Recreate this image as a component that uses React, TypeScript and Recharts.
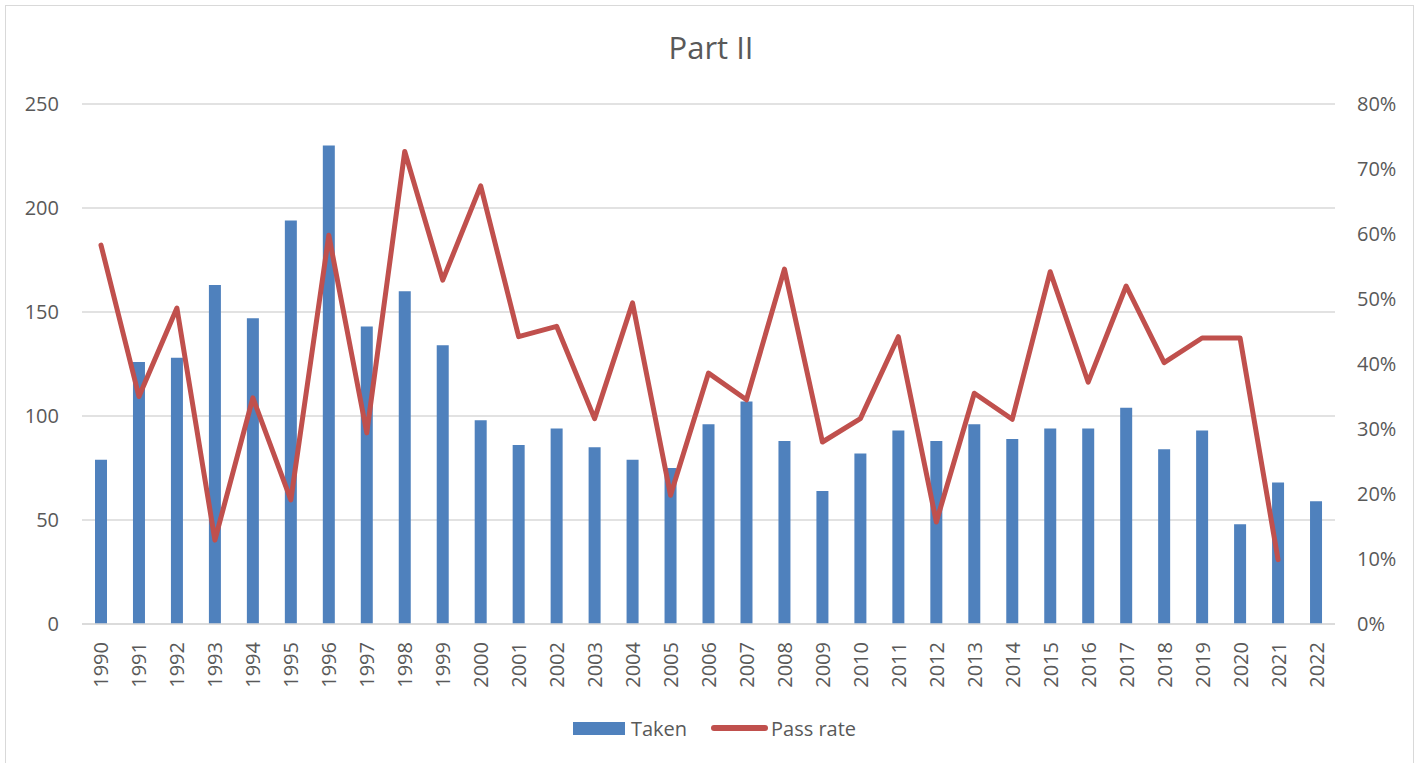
import { ComposedChart, Bar, Line, XAxis, YAxis, CartesianGrid, Legend } from 'recharts'

const years = [
  '1990', '1991', '1992', '1993', '1994', '1995', '1996', '1997', '1998', '1999',
  '2000', '2001', '2002', '2003', '2004', '2005', '2006', '2007', '2008', '2009',
  '2010', '2011', '2012', '2013', '2014', '2015', '2016', '2017', '2018', '2019',
  '2020', '2021', '2022',
]

const taken = [
  79, 126, 128, 163, 147, 194, 230, 143, 160, 134,
  98, 86, 94, 85, 79, 75, 96, 107, 88, 64,
  82, 93, 88, 96, 89, 94, 94, 104, 84, 93,
  48, 68, 59,
]

const passRate: (number | null)[] = [
  0.583, 0.350, 0.486, 0.129, 0.348, 0.191, 0.598, 0.294, 0.727, 0.529,
  0.674, 0.442, 0.458, 0.316, 0.494, 0.198, 0.386, 0.345, 0.546, 0.280,
  0.316, 0.442, 0.157, 0.355, 0.315, 0.542, 0.372, 0.520, 0.402, 0.440,
  0.440, 0.099, null,
]

const leftTicks = [0, 50, 100, 150, 200, 250]
const rightTicks = [0, 0.1, 0.2, 0.3, 0.4, 0.5, 0.6, 0.7, 0.8]

const TEXT = '#595959'
const GRID = '#d9d9d9'
const BLUE = '#4F81BD'
const RED = '#C0504D'
const FONT = '"Open Sans", sans-serif'

const data = years.map((year, i) => ({ year, taken: taken[i], passRate: passRate[i] }))

function YearTick({ x, y, payload }: any) {
  return (
    <text
      transform={`translate(${x},${y + 16}) rotate(-90)`}
      textAnchor="end"
      dominantBaseline="central"
      fill={TEXT}
      fontSize={20}
      fontFamily={FONT}
    >
      {payload.value}
    </text>
  )
}

function LegendBox() {
  return (
    <div style={{ display: 'flex', justifyContent: 'center', alignItems: 'center', height: 24, fontFamily: FONT, fontSize: 20, color: TEXT, paddingLeft: 9 }}>
      <span style={{ width: 52, height: 13, background: BLUE, display: 'inline-block', marginRight: 6 }} />
      <span style={{ marginRight: 24 }}>Taken</span>
      <span style={{ width: 57, height: 6, borderRadius: 3, background: RED, display: 'inline-block', marginRight: 3 }} />
      <span>Pass rate</span>
    </div>
  )
}

export default function App() {
  return (
    <div style={{ position: 'relative', width: 1420, height: 763, background: '#fff' }}>
      <style>{'body{margin:0}'}</style>
      <div style={{ position: 'absolute', left: 5, top: 5, width: 1409, height: 762, border: `1px solid ${GRID}`, boxSizing: 'border-box' }} />
      <div style={{ position: 'absolute', left: 0, top: 26, width: 1422, textAlign: 'center', fontFamily: FONT, fontSize: 31, color: TEXT }}>
        Part II
      </div>
      <ComposedChart width={1420} height={763} data={data} margin={{ top: 104, right: 0, bottom: 23, left: 0 }}>
        <CartesianGrid vertical={false} stroke={GRID} strokeWidth={1.5} yAxisId="left" />
        <XAxis
          dataKey="year"
          interval={0}
          tickLine={false}
          tickSize={0}
          axisLine={{ stroke: GRID, strokeWidth: 1.5 }}
          tick={<YearTick />}
          height={92}
        />
        <YAxis
          yAxisId="left"
          domain={[0, 250]}
          ticks={leftTicks}
          width={82}
          axisLine={false}
          tickLine={false}
          tickSize={0}
          tickMargin={23}
          tick={{ fill: TEXT, fontSize: 20, fontFamily: FONT }}
        />
        <YAxis
          yAxisId="right"
          orientation="right"
          domain={[0, 0.8]}
          ticks={rightTicks}
          width={85}
          axisLine={false}
          tickLine={false}
          tickSize={0}
          tickMargin={22}
          tickFormatter={(v: number) => `${Math.round(v * 100)}%`}
          tick={{ fill: TEXT, fontSize: 20, fontFamily: FONT, textAnchor: 'start' }}
        />
        <Legend verticalAlign="bottom" content={<LegendBox />} />
        <Bar yAxisId="left" dataKey="taken" name="Taken" fill={BLUE} barSize={12} isAnimationActive={false} />
        <Line
          yAxisId="right"
          type="linear"
          dataKey="passRate"
          name="Pass rate"
          stroke={RED}
          strokeWidth={5}
          strokeLinecap="round"
          strokeLinejoin="round"
          dot={false}
          activeDot={false}
          isAnimationActive={false}
        />
      </ComposedChart>
    </div>
  )
}
